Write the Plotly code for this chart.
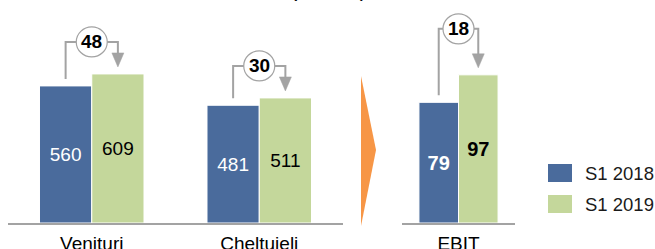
import plotly.graph_objects as go

# ---------------- data ----------------
categories_left = ["Venituri", "Cheltuieli"]
categories_right = ["EBIT"]
s1_2018_left = [560, 481]
s1_2019_left = [609, 511]
s1_2018_right = [79]
s1_2019_right = [97]
delta_left = [48, 30]
delta_right = [18]
series_names = ["S1 2018", "S1 2019"]
unit_label = "(mil. lei)"

# ---------------- style ----------------
W, H = 655, 249
BLUE = "#4A6B9C"
GREEN = "#C4D79B"
ORANGE = "#F79646"
GREY = "#A3A3A3"
FONT = "Liberation Sans, Arial, sans-serif"
BASE = 223          # pixel row of the zero line
YL_MAX, YR_MAX = 911, 146
XL_DOM = (8, 343)
XR_DOM = (402, 515)
BW_L, BW_R = 0.312, 0.35   # bar widths (category units)


def px(x):
    return x / W


def py(y):
    return 1 - y / H


fig = go.Figure()

fig.add_trace(go.Bar(
    x=list(range(len(categories_left))), y=s1_2018_left, name=series_names[0],
    width=BW_L, offset=-BW_L, marker=dict(color=BLUE, line=dict(color="white", width=1)),
    text=[str(v) for v in s1_2018_left], textposition="inside", insidetextanchor="middle",
    textangle=0, constraintext="none",
    textfont=dict(color="white", size=19, family=FONT),
    xaxis="x", yaxis="y", showlegend=False))
fig.add_trace(go.Bar(
    x=list(range(len(categories_left))), y=s1_2019_left, name=series_names[1],
    width=BW_L, offset=0, marker=dict(color=GREEN, line=dict(color="white", width=1)),
    text=[str(v) for v in s1_2019_left], textposition="inside", insidetextanchor="middle",
    textangle=0, constraintext="none",
    textfont=dict(color="black", size=19, family=FONT),
    xaxis="x", yaxis="y", showlegend=False))
fig.add_trace(go.Bar(
    x=list(range(len(categories_right))), y=s1_2018_right, name=series_names[0],
    width=BW_R, offset=-BW_R, marker=dict(color=BLUE, line=dict(color="white", width=1)),
    text=["<b>%d</b>" % v for v in s1_2018_right], textposition="inside", insidetextanchor="middle",
    textangle=0, constraintext="none",
    textfont=dict(color="white", size=20, family=FONT),
    xaxis="x2", yaxis="y2", showlegend=False))
fig.add_trace(go.Bar(
    x=list(range(len(categories_right))), y=s1_2019_right, name=series_names[1],
    width=BW_R, offset=0, marker=dict(color=GREEN, line=dict(color="white", width=1)),
    text=["<b>%d</b>" % v for v in s1_2019_right], textposition="inside", insidetextanchor="middle",
    textangle=0, constraintext="none",
    textfont=dict(color="black", size=20, family=FONT),
    xaxis="x2", yaxis="y2", showlegend=False))

shapes = []
annotations = []


def bracket(xr, yr, i, bw, vb, vg, delta, lift_px, yscale, xscale):
    bx = i - bw / 2
    gx = i + bw / 2
    level = max(vb, vg) + lift_px / yscale
    g7 = 7 / yscale
    shapes.append(dict(type="path", xref=xr, yref=yr, layer="above",
                       path=f"M {bx},{vb + g7} L {bx},{level} L {gx},{level} L {gx},{vg + 20 / yscale}",
                       line=dict(color=GREY, width=2)))
    hw = 6 / xscale
    shapes.append(dict(type="path", xref=xr, yref=yr, layer="above",
                       path=f"M {gx - hw},{vg + 21 / yscale} L {gx + hw},{vg + 21 / yscale} L {gx},{vg + g7} Z",
                       fillcolor=GREY, line=dict(color=GREY, width=0.5)))
    shapes.append(dict(type="circle", xref=xr, yref=yr, layer="above",
                       xsizemode="pixel", ysizemode="pixel", xanchor=i, yanchor=level,
                       x0=-15.5, x1=15.5, y0=-15, y1=15,
                       fillcolor="white", line=dict(color=GREY, width=1.2)))
    annotations.append(dict(x=i, y=level, xref=xr, yref=yr, text=f"<b>{delta}</b>",
                            showarrow=False, font=dict(size=19, color="black", family=FONT)))


ysl = BASE / YL_MAX
ysr = BASE / YR_MAX
xsl = (XL_DOM[1] - XL_DOM[0]) / len(categories_left)
xsr = (XR_DOM[1] - XR_DOM[0]) / len(categories_right)
for i in range(len(categories_left)):
    bracket("x", "y", i, BW_L, s1_2018_left[i], s1_2019_left[i], delta_left[i], 32, ysl, xsl)
for i in range(len(categories_right)):
    bracket("x2", "y2", i, BW_R, s1_2018_right[i], s1_2019_right[i], delta_right[i], 46, ysr, xsr)

# orange chevron
shapes.append(dict(type="path", xref="paper", yref="paper",
                   path=f"M {px(361)},{py(76)} L {px(376)},{py(150)} L {px(361)},{py(226)} Z",
                   fillcolor=ORANGE, line=dict(width=0)))

# legend
for k, (name, col) in enumerate(zip(series_names, [BLUE, GREEN])):
    top = 164 + 31 * k
    shapes.append(dict(type="rect", xref="paper", yref="paper",
                       x0=px(548), x1=px(572), y0=py(top + 18), y1=py(top),
                       fillcolor=col, line=dict(width=0)))
    annotations.append(dict(x=px(583), y=py(top + 9), xref="paper", yref="paper",
                            xanchor="left", yanchor="middle", text=name, showarrow=False,
                            font=dict(size=18.5, color="#1a1a1a", family=FONT)))

# unit label (clipped at top)
annotations.append(dict(x=px(328), y=py(-11.5), xref="paper", yref="paper",
                        xanchor="center", yanchor="middle", text=unit_label, showarrow=False,
                        font=dict(size=22, color="black", family=FONT)))

axis_common = dict(showgrid=False, zeroline=False, showline=True, linecolor=GREY, linewidth=1.5,
                   ticks="", ticklabelstandoff=2,
                   tickfont=dict(size=19, color="black", family=FONT), automargin=False)

fig.update_layout(
    width=W, height=H, margin=dict(l=0, r=0, t=0, b=0),
    paper_bgcolor="white", plot_bgcolor="white",
    barmode="group", showlegend=False,
    xaxis=dict(domain=[px(XL_DOM[0]), px(XL_DOM[1])], range=[-0.5, len(categories_left) - 0.5],
               tickvals=list(range(len(categories_left))), ticktext=categories_left,
               anchor="y", **axis_common),
    yaxis=dict(domain=[py(BASE), 1], range=[0, YL_MAX], visible=False, anchor="x"),
    xaxis2=dict(domain=[px(XR_DOM[0]), px(XR_DOM[1])], range=[-0.5, len(categories_right) - 0.5],
                tickvals=list(range(len(categories_right))), ticktext=categories_right,
                anchor="y2", **axis_common),
    yaxis2=dict(domain=[py(BASE), 1], range=[0, YR_MAX], visible=False, anchor="x2"),
    shapes=shapes, annotations=annotations,
)

fig.write_html("out.html", config={"displayModeBar": False},
               post_script="document.body.style.margin='0';document.body.style.overflow='hidden';")
